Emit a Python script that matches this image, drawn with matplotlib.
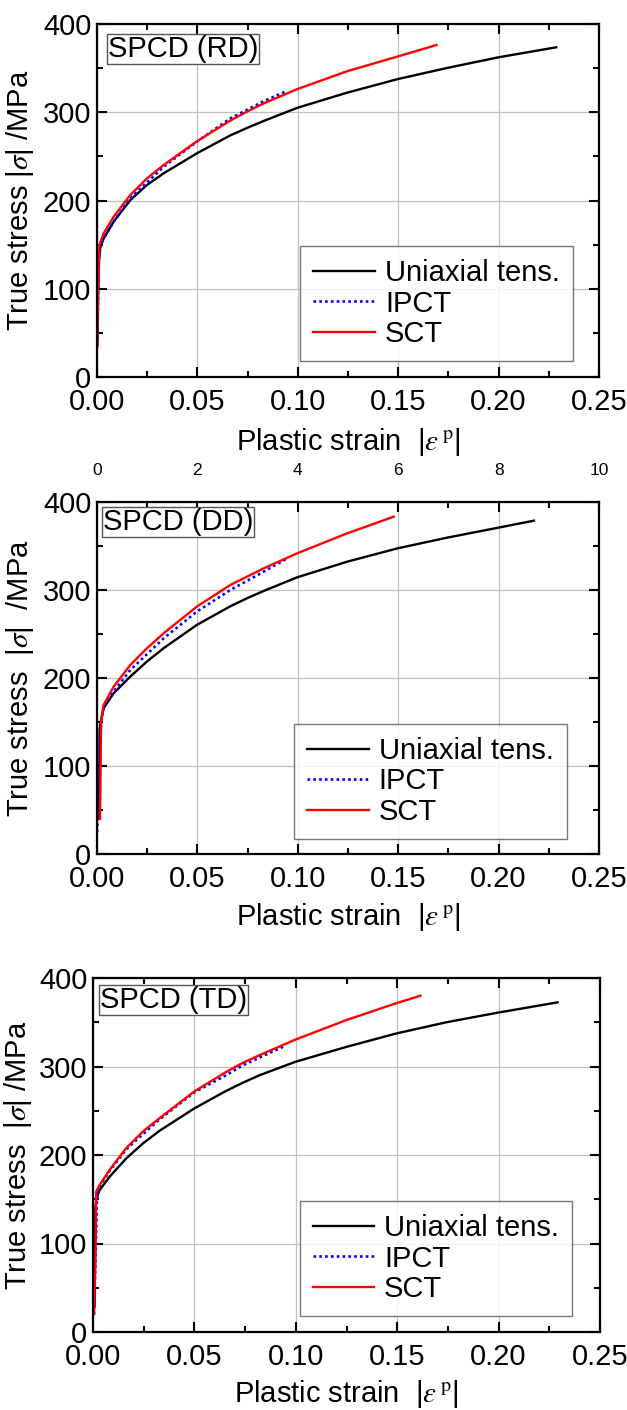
import numpy as np
import matplotlib
matplotlib.use("Agg")
import matplotlib.pyplot as plt
from matplotlib.ticker import MultipleLocator

plt.rcParams['font.family'] = ['Liberation Sans', 'DejaVu Sans']
plt.rcParams['mathtext.fontset'] = 'stix'

# -----------------------------
# Data
# -----------------------------
# RD
rd_uni_x = [0.0003, 0.0006, 0.001, 0.0017, 0.0033, 0.0083, 0.0166, 0.0249, 0.0332, 0.0497,
            0.0664, 0.0748, 0.0831, 0.0997, 0.1246, 0.1498, 0.1744, 0.1998, 0.2287]
rd_uni_y = [40, 100, 132, 147.7, 157, 176, 200.5, 217.6, 230.8, 253.4,
            273.8, 282.3, 290.2, 305, 322.2, 337.6, 350.2, 362.2, 373.6]
rd_ipct_x = [0.0002, 0.0005, 0.001, 0.0017, 0.0033, 0.0083, 0.0166, 0.0332, 0.0497, 0.0664, 0.0831, 0.0939]
rd_ipct_y = [35, 95, 135, 148, 157, 176, 202.4, 238.3, 266.6, 293, 312.7, 323.3]
rd_sct_x = [0.0002, 0.0005, 0.001, 0.0013, 0.0033, 0.0083, 0.0166, 0.0249, 0.0332, 0.0497,
            0.0664, 0.0748, 0.0831, 0.0997, 0.1246, 0.1498, 0.1691]
rd_sct_y = [35, 100, 140, 150, 162.7, 181.6, 206.2, 225.1, 240.2, 267,
            290.6, 300.8, 310.1, 326.2, 346.5, 363.2, 376.2]

# DD
dd_uni_x = [0.001, 0.0012, 0.0013, 0.0017, 0.0033, 0.0083, 0.0166, 0.0249, 0.0332, 0.0497,
            0.0664, 0.0748, 0.0831, 0.0997, 0.1246, 0.1498, 0.1744, 0.1998, 0.2176]
dd_uni_y = [40, 100, 140, 148.6, 165.7, 182.7, 201.7, 218.8, 233.9, 260.3,
            281.5, 290.7, 299, 314.4, 332.2, 347.4, 359.5, 370.8, 378.8]
dd_ipct_x = [0.0, 0.001, 0.0015, 0.002, 0.0033, 0.0083, 0.0166, 0.0332, 0.0497, 0.0664, 0.0831, 0.0947]
dd_ipct_y = [25, 60, 120, 150, 167.5, 184.5, 209.1, 245.1, 275.4, 300, 320.9, 335.9]
dd_sct_x = [0.0015, 0.0018, 0.002, 0.0025, 0.0033, 0.0083, 0.0166, 0.0249, 0.0332, 0.0497,
            0.0664, 0.0831, 0.0997, 0.1246, 0.1478]
dd_sct_y = [40, 100, 145, 158, 169.4, 190.2, 214.8, 233.8, 250.8, 281.1,
            305.7, 324.7, 341.7, 364.4, 383.3]

# TD
td_uni_x = [0.0008, 0.001, 0.0012, 0.0016, 0.0033, 0.0082, 0.0164, 0.0247, 0.0329, 0.05,
            0.0658, 0.074, 0.0822, 0.0998, 0.125, 0.1497, 0.1743, 0.1995, 0.2291]
td_uni_y = [30, 100, 140, 151, 160.5, 175.5, 196.2, 213.2, 227.5, 252.7,
            272.6, 281.8, 290.2, 305.3, 322.2, 337.4, 350, 360.8, 372.5]
td_ipct_x = [0.0005, 0.0012, 0.002, 0.0033, 0.0082, 0.0164, 0.0329, 0.05, 0.0658, 0.074, 0.0938]
td_ipct_y = [20, 80, 150, 165, 182, 206.5, 240.5, 270.8, 290.4, 301.5, 322.4]
td_sct_x = [0.0005, 0.0012, 0.0016, 0.0033, 0.0082, 0.0164, 0.0247, 0.0329, 0.05,
            0.0658, 0.074, 0.0822, 0.0998, 0.125, 0.1497, 0.1615]
td_sct_y = [20, 80, 158.7, 166.2, 183.2, 207.9, 226.7, 241.8, 271.9,
            294.1, 304.3, 312.9, 330.4, 352.5, 371.6, 380]

labels = ["Uniaxial tens.", "IPCT", "SCT"]
titles = ["SPCD (RD)", "SPCD (DD)", "SPCD (TD)"]
xticks = [0.00, 0.05, 0.10, 0.15, 0.20, 0.25]
yticks = [0, 100, 200, 300, 400]
top_ticks = [0, 2, 4, 6, 8, 10]

panels = [
    (rd_uni_x, rd_uni_y, rd_ipct_x, rd_ipct_y, rd_sct_x, rd_sct_y),
    (dd_uni_x, dd_uni_y, dd_ipct_x, dd_ipct_y, dd_sct_x, dd_sct_y),
    (td_uni_x, td_uni_y, td_ipct_x, td_ipct_y, td_sct_x, td_sct_y),
]

# -----------------------------
# Layout (pixel based)
# -----------------------------
W, H = 627, 1410
fig = plt.figure(figsize=(W / 100, H / 100), dpi=100)

# left, right, top, bottom in pixels
boxes = [(97, 599, 24, 377), (97, 599, 502, 854), (93, 600, 978, 1332)]
title_pos = [(0.022, 0.969), (0.012, 0.983), (0.014, 0.977)]
legend_pos = [(0.948, 0.045), (0.936, 0.043), (0.945, 0.045)]
ylabels = [r"True stress |$\sigma$| /MPa",
           r"True stress  |$\sigma$|  /MPa",
           r"True stress  |$\sigma$| /MPa"]
ylab_x = [-0.122, -0.122, -0.117]
xlab_pad = [7, 6, 5]

fs = 21
axes = []
for i, (l, r, t, b) in enumerate(boxes):
    ax = fig.add_axes([l / W, 1 - b / H, (r - l) / W, (b - t) / H])
    ux, uy, ix, iy, sx, sy = panels[i]
    ax.plot(ux, uy, color='black', lw=1.7, label=labels[0])
    ax.plot(ix, iy, color='blue', lw=1.9, ls=(0, (1, 1.2)), label=labels[1])
    ax.plot(sx, sy, color='red', lw=1.7, label=labels[2])

    ax.set_xlim(0, 0.25)
    ax.set_ylim(0, 400)
    ax.set_xticks(xticks)
    ax.set_xticklabels([f"{v:.2f}" for v in xticks])
    ax.set_yticks(yticks)
    ax.xaxis.set_minor_locator(MultipleLocator(0.025))
    ax.yaxis.set_minor_locator(MultipleLocator(50))
    ax.tick_params(which='both', direction='in', top=True, right=True,
                   width=1.5, labelsize=fs)
    ax.tick_params(which='major', length=7)
    ax.tick_params(axis='x', which='major', pad=8)
    ax.tick_params(axis='y', which='major', pad=4)
    ax.tick_params(which='minor', length=4)
    ax.grid(True, which='major', color='#c0c0c0', lw=0.9)
    ax.set_axisbelow(True)
    for s in ax.spines.values():
        s.set_linewidth(1.6)

    ax.set_xlabel(r"Plastic strain  |$\varepsilon^{\,\mathrm{p}}$|", fontsize=fs,
                  labelpad=xlab_pad[i])
    ax.set_ylabel(ylabels[i], fontsize=fs)
    ax.yaxis.set_label_coords(ylab_x[i], 0.5)

    ax.text(title_pos[i][0], title_pos[i][1], titles[i], transform=ax.transAxes,
            fontsize=fs, ha='left', va='top',
            bbox=dict(boxstyle='square,pad=0.03', fc='white', ec='#555555', lw=1))

    leg = ax.legend(loc='lower right', bbox_to_anchor=legend_pos[i], fontsize=fs,
                    frameon=True, fancybox=False, edgecolor='#555555',
                    handlelength=2.1, handletextpad=0.35, labelspacing=0.08,
                    borderpad=0.45, borderaxespad=0)
    leg.get_frame().set_linewidth(1)
    axes.append(ax)

# secondary scale on top of the middle panel
sec = axes[1].secondary_xaxis('top', functions=(lambda x: x * 40, lambda x: x / 40))
sec.set_xticks(top_ticks)
sec.tick_params(length=0, labelsize=12.5, pad=17)
sec.spines['top'].set_visible(False)

fig.savefig("out.png", dpi=100)
